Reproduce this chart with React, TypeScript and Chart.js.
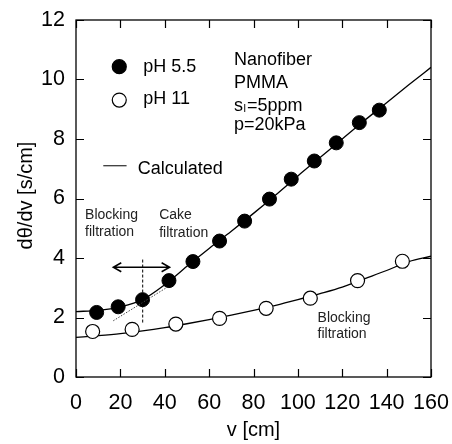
import React, { useEffect, useRef } from "react";
import { Chart, registerables } from "chart.js";

Chart.register(...registerables);

// measured data (pH 5.5, filled)
const ph55X = [9.3, 19, 30, 41.9, 52.7, 64.7, 76, 87.2, 97, 107.4, 117.3, 127.7, 136.7];
const ph55Y = [2.17, 2.36, 2.6, 3.24, 3.88, 4.57, 5.24, 5.98, 6.65, 7.26, 7.87, 8.55, 8.97];
// measured data (pH 11, open)
const ph11X = [7.5, 25.3, 45, 64.7, 85.7, 105.6, 126.9, 147.1];
const ph11Y = [1.53, 1.6, 1.78, 1.97, 2.31, 2.65, 3.24, 3.89];
// calculated curves
const calcX = [0, 10, 20, 30, 40, 50, 60, 70, 80, 90, 100, 110, 120, 130, 140, 150, 160];
const calc55 = [2.2, 2.24, 2.36, 2.6, 3.1, 3.72, 4.32, 4.9, 5.5, 6.12, 6.76, 7.38, 8.0, 8.62, 9.22, 9.82, 10.41];
const calc11 = [1.33, 1.39, 1.46, 1.55, 1.66, 1.79, 1.93, 2.08, 2.24, 2.41, 2.6, 2.8, 3.02, 3.3, 3.58, 3.88, 4.06];
// axis ticks
const xTicks = [0, 20, 40, 60, 80, 100, 120, 140, 160];
const yTicks = [0, 2, 4, 6, 8, 10, 12];
// annotation guides (data coordinates)
const tangentX = [16.8, 40.5];
const tangentY = [1.89, 2.99];
const dividerX = [30.06, 30.06];
const dividerY = [1.83, 3.98];
const arrowX = [16.8, 42.2];
const arrowY = [3.69, 3.69];

const FONT = "'Liberation Sans', Arial, Helvetica, sans-serif";

const toPts = (xs: number[], ys: number[]) => xs.map((x, i) => ({ x, y: ys[i] }));

const decor = {
  id: "decor",
  afterDraw(chart: any) {
    const ctx = chart.ctx;
    const xs = chart.scales.x;
    const ys = chart.scales.y;
    const px = (v: number) => xs.getPixelForValue(v);
    const py = (v: number) => ys.getPixelForValue(v);
    const { left, right, top, bottom } = chart.chartArea;
    ctx.save();
    ctx.strokeStyle = "#000";
    ctx.fillStyle = "#000";
    ctx.lineWidth = 1.3;
    // frame
    ctx.strokeRect(left, top, right - left, bottom - top);
    // inward ticks
    const tl = 8;
    ctx.lineWidth = 1.2;
    ctx.beginPath();
    xTicks.forEach((t) => {
      const x = Math.round(px(t)) + 0.5;
      ctx.moveTo(x, bottom);
      ctx.lineTo(x, bottom - tl);
      ctx.moveTo(x, top);
      ctx.lineTo(x, top + tl);
    });
    yTicks.forEach((t) => {
      const y = Math.round(py(t)) + 0.5;
      ctx.moveTo(left, y);
      ctx.lineTo(left + tl, y);
      ctx.moveTo(right, y);
      ctx.lineTo(right - tl, y);
    });
    ctx.stroke();

    // y-axis title
    ctx.save();
    ctx.translate(26, (top + bottom) / 2 - 3);
    ctx.rotate(-Math.PI / 2);
    ctx.font = `20px ${FONT}`;
    ctx.textAlign = "center";
    ctx.textBaseline = "middle";
    ctx.fillText("dθ/dv [s/cm]", 0, 0);
    ctx.restore();

    // tangent dotted
    ctx.lineWidth = 1;
    ctx.strokeStyle = "#444";
    ctx.setLineDash([1.5, 1.5]);
    ctx.beginPath();
    ctx.moveTo(px(tangentX[0]), py(tangentY[0]));
    ctx.lineTo(px(tangentX[1]), py(tangentY[1]));
    ctx.stroke();
    // divider dashed
    ctx.strokeStyle = "#000";
    ctx.setLineDash([3, 2]);
    ctx.beginPath();
    ctx.moveTo(px(dividerX[0]), py(dividerY[0]));
    ctx.lineTo(px(dividerX[1]), py(dividerY[1]));
    ctx.stroke();
    ctx.setLineDash([]);
    // arrow
    ctx.lineWidth = 1.5;
    const ax0 = px(arrowX[0]), ax1 = px(arrowX[1]), ay = py(arrowY[0]);
    ctx.beginPath();
    ctx.moveTo(ax0, ay);
    ctx.lineTo(ax1, ay);
    ctx.moveTo(ax0 + 8, ay - 4.5);
    ctx.lineTo(ax0, ay);
    ctx.lineTo(ax0 + 8, ay + 4.5);
    ctx.moveTo(ax1 - 8, ay - 4.5);
    ctx.lineTo(ax1, ay);
    ctx.lineTo(ax1 - 8, ay + 4.5);
    ctx.stroke();

    // annotation texts
    ctx.textAlign = "left";
    ctx.textBaseline = "alphabetic";
    ctx.font = `14px ${FONT}`;
    ctx.fillStyle = "#222";
    ctx.fillText("Blocking", px(4.1), py(5.31));
    ctx.fillText("filtration", px(4.1), py(4.73));
    ctx.fillText("Cake", px(37.5), py(5.31));
    ctx.fillText("filtration", px(37.5), py(4.71));
    ctx.fillText("Blocking", px(108.9), py(1.86));
    ctx.fillText("filtration", px(108.9), py(1.3));

    // info block
    ctx.fillStyle = "#000";
    ctx.font = `18px ${FONT}`;
    const ix = px(71.2);
    ctx.fillText("Nanofiber", ix, py(10.49));
    ctx.fillText("PMMA", ix, py(9.70));
    const sy = py(8.95);
    ctx.fillText("s", ix, sy);
    const sw = ctx.measureText("s").width;
    ctx.font = `11px ${FONT}`;
    ctx.fillText("l", ix + sw + 0.5, sy + 1);
    const lw = ctx.measureText("l").width;
    ctx.font = `18px ${FONT}`;
    ctx.fillText("=5ppm", ix + sw + lw + 1.5, sy);
    ctx.fillText("p=20kPa", ix, py(8.30));

    // legend
    ctx.font = `18px ${FONT}`;
    ctx.lineWidth = 1.2;
    ctx.beginPath();
    ctx.arc(px(19.5), py(10.43), 7, 0, Math.PI * 2);
    ctx.fillStyle = "#000";
    ctx.fill();
    ctx.stroke();
    ctx.fillText("pH 5.5", px(30.3), py(10.26));
    ctx.beginPath();
    ctx.arc(px(19.5), py(9.31), 7, 0, Math.PI * 2);
    ctx.fillStyle = "#fff";
    ctx.fill();
    ctx.stroke();
    ctx.fillStyle = "#000";
    ctx.fillText("pH 11", px(30.3), py(9.17));
    ctx.beginPath();
    ctx.lineWidth = 1;
    ctx.moveTo(px(12.3), py(7.1));
    ctx.lineTo(px(22.8), py(7.1));
    ctx.stroke();
    ctx.fillText("Calculated", px(27.8), py(6.82));
    ctx.restore();
  },
};

export default function App() {
  const ref = useRef<HTMLCanvasElement | null>(null);
  useEffect(() => {
    document.body.style.margin = "0";
    const canvas = ref.current!;
    const chart = new Chart(canvas, {
      type: "scatter",
      data: {
        datasets: [
          {
            label: "pH 5.5",
            data: toPts(ph55X, ph55Y),
            showLine: false,
            pointRadius: 7,
            pointBackgroundColor: "#000",
            pointBorderColor: "#000",
            pointBorderWidth: 1,
          },
          {
            label: "pH 11",
            data: toPts(ph11X, ph11Y),
            showLine: false,
            pointRadius: 7,
            pointBackgroundColor: "#fff",
            pointBorderColor: "#000",
            pointBorderWidth: 1.2,
          },
          {
            label: "Calculated 5.5",
            type: "line",
            data: toPts(calcX, calc55),
            borderColor: "#000",
            borderWidth: 1.3,
            pointRadius: 0,
            cubicInterpolationMode: "monotone",
          } as any,
          {
            label: "Calculated 11",
            type: "line",
            data: toPts(calcX, calc11),
            borderColor: "#000",
            borderWidth: 1.3,
            pointRadius: 0,
            cubicInterpolationMode: "monotone",
          } as any,
        ],
      },
      options: {
        responsive: false,
        animation: false,
        layout: { padding: { top: 20, right: 21, left: 0, bottom: 0 } },
        plugins: { legend: { display: false }, tooltip: { enabled: false } },
        scales: {
          x: {
            type: "linear",
            min: 0,
            max: 160,
            afterBuildTicks: (s: any) => {
              s.ticks = xTicks.map((v) => ({ value: v }));
            },
            afterFit: (s: any) => {
              s.height = 67;
              s.paddingLeft = 0;
              s.paddingRight = 0;
            },
            grid: { display: false, drawTicks: false },
            border: { display: false },
            ticks: { color: "#000", font: { size: 21.5, family: FONT }, padding: 13, maxRotation: 0 },
            title: {
              display: true,
              text: "v [cm]",
              color: "#000",
              font: { size: 20, family: FONT },
              padding: { top: 0, bottom: 2 },
            },
          },
          y: {
            type: "linear",
            min: 0,
            max: 12,
            afterBuildTicks: (s: any) => {
              s.ticks = yTicks.map((v) => ({ value: v }));
            },
            afterFit: (s: any) => {
              s.width = 76;
              s.paddingTop = 0;
              s.paddingBottom = 0;
            },
            grid: { display: false, drawTicks: false },
            border: { display: false },
            ticks: { color: "#000", font: { size: 21.5, family: FONT }, padding: 11 },
          },
        },
      },
      plugins: [decor],
    });
    return () => chart.destroy();
  }, []);
  return <canvas ref={ref} width={452} height={444} style={{ display: "block", width: 452, height: 444 }} />;
}
